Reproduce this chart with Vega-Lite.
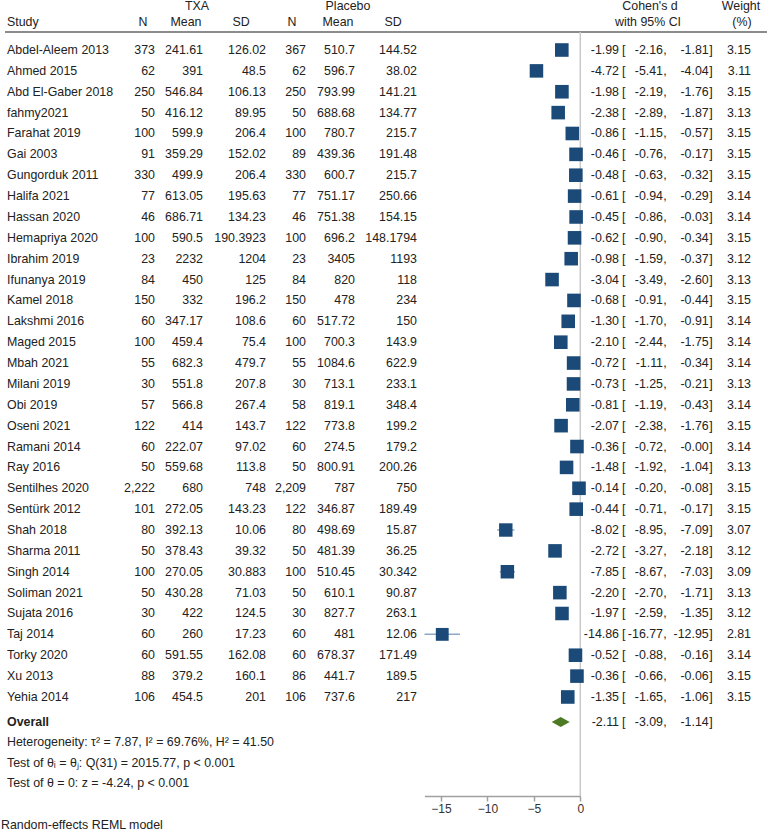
{
  "$schema": "https://vega.github.io/schema/vega-lite/v6.json",
  "width": 767,
  "height": 833,
  "autosize": {"type": "none"},
  "padding": 0,
  "background": "white",
  "config": {
    "view": {"stroke": null},
    "text": {"font": "Liberation Sans", "fontSize": 12.4, "color": "#222222", "baseline": "middle"}
  },
  "data": {"values": [{}]},
  "datasets": {
    "studies": [
      {"kind": "study", "study": "Abdel-Aleem 2013", "row": 0, "n1": "373", "m1": "241.61", "sd1": "126.02", "n2": "367", "m2": "510.7", "sd2": "144.52", "es": -1.99, "lo": -2.16, "hi": -1.81, "es_s": "-1.99", "lo_s": "-2.16", "hi_s": "-1.81", "w": 3.15},
      {"kind": "study", "study": "Ahmed 2015", "row": 1, "n1": "62", "m1": "391", "sd1": "48.5", "n2": "62", "m2": "596.7", "sd2": "38.02", "es": -4.72, "lo": -5.41, "hi": -4.04, "es_s": "-4.72", "lo_s": "-5.41", "hi_s": "-4.04", "w": 3.11},
      {"kind": "study", "study": "Abd El-Gaber 2018", "row": 2, "n1": "250", "m1": "546.84", "sd1": "106.13", "n2": "250", "m2": "793.99", "sd2": "141.21", "es": -1.98, "lo": -2.19, "hi": -1.76, "es_s": "-1.98", "lo_s": "-2.19", "hi_s": "-1.76", "w": 3.15},
      {"kind": "study", "study": "fahmy2021", "row": 3, "n1": "50", "m1": "416.12", "sd1": "89.95", "n2": "50", "m2": "688.68", "sd2": "134.77", "es": -2.38, "lo": -2.89, "hi": -1.87, "es_s": "-2.38", "lo_s": "-2.89", "hi_s": "-1.87", "w": 3.13},
      {"kind": "study", "study": "Farahat 2019", "row": 4, "n1": "100", "m1": "599.9", "sd1": "206.4", "n2": "100", "m2": "780.7", "sd2": "215.7", "es": -0.86, "lo": -1.15, "hi": -0.57, "es_s": "-0.86", "lo_s": "-1.15", "hi_s": "-0.57", "w": 3.15},
      {"kind": "study", "study": "Gai 2003", "row": 5, "n1": "91", "m1": "359.29", "sd1": "152.02", "n2": "89", "m2": "439.36", "sd2": "191.48", "es": -0.46, "lo": -0.76, "hi": -0.17, "es_s": "-0.46", "lo_s": "-0.76", "hi_s": "-0.17", "w": 3.15},
      {"kind": "study", "study": "Gungorduk 2011", "row": 6, "n1": "330", "m1": "499.9", "sd1": "206.4", "n2": "330", "m2": "600.7", "sd2": "215.7", "es": -0.48, "lo": -0.63, "hi": -0.32, "es_s": "-0.48", "lo_s": "-0.63", "hi_s": "-0.32", "w": 3.15},
      {"kind": "study", "study": "Halifa 2021", "row": 7, "n1": "77", "m1": "613.05", "sd1": "195.63", "n2": "77", "m2": "751.17", "sd2": "250.66", "es": -0.61, "lo": -0.94, "hi": -0.29, "es_s": "-0.61", "lo_s": "-0.94", "hi_s": "-0.29", "w": 3.14},
      {"kind": "study", "study": "Hassan 2020", "row": 8, "n1": "46", "m1": "686.71", "sd1": "134.23", "n2": "46", "m2": "751.38", "sd2": "154.15", "es": -0.45, "lo": -0.86, "hi": -0.03, "es_s": "-0.45", "lo_s": "-0.86", "hi_s": "-0.03", "w": 3.14},
      {"kind": "study", "study": "Hemapriya 2020", "row": 9, "n1": "100", "m1": "590.5", "sd1": "190.3923", "n2": "100", "m2": "696.2", "sd2": "148.1794", "es": -0.62, "lo": -0.90, "hi": -0.34, "es_s": "-0.62", "lo_s": "-0.90", "hi_s": "-0.34", "w": 3.15},
      {"kind": "study", "study": "Ibrahim 2019", "row": 10, "n1": "23", "m1": "2232", "sd1": "1204", "n2": "23", "m2": "3405", "sd2": "1193", "es": -0.98, "lo": -1.59, "hi": -0.37, "es_s": "-0.98", "lo_s": "-1.59", "hi_s": "-0.37", "w": 3.12},
      {"kind": "study", "study": "Ifunanya 2019", "row": 11, "n1": "84", "m1": "450", "sd1": "125", "n2": "84", "m2": "820", "sd2": "118", "es": -3.04, "lo": -3.49, "hi": -2.60, "es_s": "-3.04", "lo_s": "-3.49", "hi_s": "-2.60", "w": 3.13},
      {"kind": "study", "study": "Kamel 2018", "row": 12, "n1": "150", "m1": "332", "sd1": "196.2", "n2": "150", "m2": "478", "sd2": "234", "es": -0.68, "lo": -0.91, "hi": -0.44, "es_s": "-0.68", "lo_s": "-0.91", "hi_s": "-0.44", "w": 3.15},
      {"kind": "study", "study": "Lakshmi 2016", "row": 13, "n1": "60", "m1": "347.17", "sd1": "108.6", "n2": "60", "m2": "517.72", "sd2": "150", "es": -1.30, "lo": -1.70, "hi": -0.91, "es_s": "-1.30", "lo_s": "-1.70", "hi_s": "-0.91", "w": 3.14},
      {"kind": "study", "study": "Maged 2015", "row": 14, "n1": "100", "m1": "459.4", "sd1": "75.4", "n2": "100", "m2": "700.3", "sd2": "143.9", "es": -2.10, "lo": -2.44, "hi": -1.75, "es_s": "-2.10", "lo_s": "-2.44", "hi_s": "-1.75", "w": 3.14},
      {"kind": "study", "study": "Mbah 2021", "row": 15, "n1": "55", "m1": "682.3", "sd1": "479.7", "n2": "55", "m2": "1084.6", "sd2": "622.9", "es": -0.72, "lo": -1.11, "hi": -0.34, "es_s": "-0.72", "lo_s": "-1.11", "hi_s": "-0.34", "w": 3.14},
      {"kind": "study", "study": "Milani 2019", "row": 16, "n1": "30", "m1": "551.8", "sd1": "207.8", "n2": "30", "m2": "713.1", "sd2": "233.1", "es": -0.73, "lo": -1.25, "hi": -0.21, "es_s": "-0.73", "lo_s": "-1.25", "hi_s": "-0.21", "w": 3.13},
      {"kind": "study", "study": "Obi 2019", "row": 17, "n1": "57", "m1": "566.8", "sd1": "267.4", "n2": "58", "m2": "819.1", "sd2": "348.4", "es": -0.81, "lo": -1.19, "hi": -0.43, "es_s": "-0.81", "lo_s": "-1.19", "hi_s": "-0.43", "w": 3.14},
      {"kind": "study", "study": "Oseni 2021", "row": 18, "n1": "122", "m1": "414", "sd1": "143.7", "n2": "122", "m2": "773.8", "sd2": "199.2", "es": -2.07, "lo": -2.38, "hi": -1.76, "es_s": "-2.07", "lo_s": "-2.38", "hi_s": "-1.76", "w": 3.15},
      {"kind": "study", "study": "Ramani 2014", "row": 19, "n1": "60", "m1": "222.07", "sd1": "97.02", "n2": "60", "m2": "274.5", "sd2": "179.2", "es": -0.36, "lo": -0.72, "hi": -0.004, "es_s": "-0.36", "lo_s": "-0.72", "hi_s": "-0.00", "w": 3.14},
      {"kind": "study", "study": "Ray 2016", "row": 20, "n1": "50", "m1": "559.68", "sd1": "113.8", "n2": "50", "m2": "800.91", "sd2": "200.26", "es": -1.48, "lo": -1.92, "hi": -1.04, "es_s": "-1.48", "lo_s": "-1.92", "hi_s": "-1.04", "w": 3.13},
      {"kind": "study", "study": "Sentilhes 2020", "row": 21, "n1": "2,222", "m1": "680", "sd1": "748", "n2": "2,209", "m2": "787", "sd2": "750", "es": -0.14, "lo": -0.20, "hi": -0.08, "es_s": "-0.14", "lo_s": "-0.20", "hi_s": "-0.08", "w": 3.15},
      {"kind": "study", "study": "Sentürk 2012", "row": 22, "n1": "101", "m1": "272.05", "sd1": "143.23", "n2": "122", "m2": "346.87", "sd2": "189.49", "es": -0.44, "lo": -0.71, "hi": -0.17, "es_s": "-0.44", "lo_s": "-0.71", "hi_s": "-0.17", "w": 3.15},
      {"kind": "study", "study": "Shah 2018", "row": 23, "n1": "80", "m1": "392.13", "sd1": "10.06", "n2": "80", "m2": "498.69", "sd2": "15.87", "es": -8.02, "lo": -8.95, "hi": -7.09, "es_s": "-8.02", "lo_s": "-8.95", "hi_s": "-7.09", "w": 3.07},
      {"kind": "study", "study": "Sharma 2011", "row": 24, "n1": "50", "m1": "378.43", "sd1": "39.32", "n2": "50", "m2": "481.39", "sd2": "36.25", "es": -2.72, "lo": -3.27, "hi": -2.18, "es_s": "-2.72", "lo_s": "-3.27", "hi_s": "-2.18", "w": 3.12},
      {"kind": "study", "study": "Singh 2014", "row": 25, "n1": "100", "m1": "270.05", "sd1": "30.883", "n2": "100", "m2": "510.45", "sd2": "30.342", "es": -7.85, "lo": -8.67, "hi": -7.03, "es_s": "-7.85", "lo_s": "-8.67", "hi_s": "-7.03", "w": 3.09},
      {"kind": "study", "study": "Soliman 2021", "row": 26, "n1": "50", "m1": "430.28", "sd1": "71.03", "n2": "50", "m2": "610.1", "sd2": "90.87", "es": -2.20, "lo": -2.70, "hi": -1.71, "es_s": "-2.20", "lo_s": "-2.70", "hi_s": "-1.71", "w": 3.13},
      {"kind": "study", "study": "Sujata 2016", "row": 27, "n1": "30", "m1": "422", "sd1": "124.5", "n2": "30", "m2": "827.7", "sd2": "263.1", "es": -1.97, "lo": -2.59, "hi": -1.35, "es_s": "-1.97", "lo_s": "-2.59", "hi_s": "-1.35", "w": 3.12},
      {"kind": "study", "study": "Taj 2014", "row": 28, "n1": "60", "m1": "260", "sd1": "17.23", "n2": "60", "m2": "481", "sd2": "12.06", "es": -14.86, "lo": -16.77, "hi": -12.95, "es_s": "-14.86", "lo_s": "-16.77", "hi_s": "-12.95", "w": 2.81},
      {"kind": "study", "study": "Torky 2020", "row": 29, "n1": "60", "m1": "591.55", "sd1": "162.08", "n2": "60", "m2": "678.37", "sd2": "171.49", "es": -0.52, "lo": -0.88, "hi": -0.16, "es_s": "-0.52", "lo_s": "-0.88", "hi_s": "-0.16", "w": 3.14},
      {"kind": "study", "study": "Xu 2013", "row": 30, "n1": "88", "m1": "379.2", "sd1": "160.1", "n2": "86", "m2": "441.7", "sd2": "189.5", "es": -0.36, "lo": -0.66, "hi": -0.06, "es_s": "-0.36", "lo_s": "-0.66", "hi_s": "-0.06", "w": 3.15},
      {"kind": "study", "study": "Yehia 2014", "row": 31, "n1": "106", "m1": "454.5", "sd1": "201", "n2": "106", "m2": "737.6", "sd2": "217", "es": -1.35, "lo": -1.65, "hi": -1.06, "es_s": "-1.35", "lo_s": "-1.65", "hi_s": "-1.06", "w": 3.15},
      {"kind": "overall", "study": "Overall", "row": 32.2, "es": -2.11, "lo": -3.09, "hi": -1.14, "es_s": "-2.11", "lo_s": "-3.09", "hi_s": "-1.14"}
    ],
    "notes": [
      {"text": "Heterogeneity: τ² = 7.87, I² = 69.76%, H² = 41.50", "row": 33.16},
      {"text": "Test of θᵢ = θⱼ: Q(31) = 2015.77, p < 0.001", "row": 34.16},
      {"text": "Test of θ = 0: z = -4.24, p < 0.001", "row": 35.12}
    ],
    "foot": [
      {"text": "Random-effects REML model", "row": 37.12}
    ]
  },
  "layer": [
    {
      "mark": {"type": "rule", "color": "#8c8c8c", "strokeWidth": 2},
      "encoding": {
        "x": {"value": 5}, "x2": {"value": 767},
        "y": {"datum": -0.86, "type": "quantitative", "scale": {"domain": [-2.396, 35.745], "range": [0, 796], "nice": false, "zero": false}, "axis": null}
      }
    },
    {
      "mark": {"type": "rule", "color": "#c8c8c8", "strokeWidth": 1.5},
      "encoding": {
        "x": {"datum": 0, "type": "quantitative", "scale": {"domain": [-16.77, 0], "range": [424.5, 580.3], "nice": false, "zero": false},
              "axis": {"values": [-15, -10, -5, 0], "title": null, "grid": false, "offset": -37, "domainColor": "#a0a0a0", "domainWidth": 1.5, "tickColor": "#a0a0a0", "tickWidth": 1.5, "tickSize": 5, "labelFontSize": 12, "labelColor": "#333333", "labelPadding": 2, "labelFont": "Liberation Sans", "format": "d", "labelFlush": false}},
        "y": {"datum": -0.86, "type": "quantitative", "scale": {"domain": [-2.396, 35.745], "range": [0, 796], "nice": false, "zero": false}, "axis": null},
        "y2": {"datum": 35.745}
      }
    },
    {
      "data": {"name": "studies"},
      "transform": [{"filter": {"field": "kind", "equal": "study"}}],
      "mark": {"type": "rule", "color": "#8fa8c8", "strokeWidth": 1.5},
      "encoding": {
        "x": {"field": "lo", "type": "quantitative", "scale": {"domain": [-16.77, 0], "range": [424.5, 580.3], "nice": false, "zero": false},
              "axis": {"values": [-15, -10, -5, 0], "title": null, "grid": false, "offset": -37, "domainColor": "#a0a0a0", "domainWidth": 1.5, "tickColor": "#a0a0a0", "tickWidth": 1.5, "tickSize": 5, "labelFontSize": 12, "labelColor": "#333333", "labelPadding": 2, "labelFont": "Liberation Sans", "format": "d", "labelFlush": false}},
        "x2": {"field": "hi"},
        "y": {"field": "row", "type": "quantitative", "scale": {"domain": [-2.396, 35.745], "range": [0, 796], "nice": false, "zero": false}, "axis": null}
      }
    },
    {
      "data": {"name": "studies"},
      "transform": [{"filter": {"field": "kind", "equal": "study"}}],
      "mark": {"type": "point", "shape": "square", "filled": true, "opacity": 1, "color": "#1b4a78", "strokeWidth": 0},
      "encoding": {
        "x": {"field": "es", "type": "quantitative", "scale": {"domain": [-16.77, 0], "range": [424.5, 580.3], "nice": false, "zero": false},
              "axis": {"values": [-15, -10, -5, 0], "title": null, "grid": false, "offset": -37, "domainColor": "#a0a0a0", "domainWidth": 1.5, "tickColor": "#a0a0a0", "tickWidth": 1.5, "tickSize": 5, "labelFontSize": 12, "labelColor": "#333333", "labelPadding": 2, "labelFont": "Liberation Sans", "format": "d", "labelFlush": false}},
        "y": {"field": "row", "type": "quantitative", "scale": {"domain": [-2.396, 35.745], "range": [0, 796], "nice": false, "zero": false}, "axis": null},
        "size": {"field": "w", "type": "quantitative", "scale": {"domain": [0, 3.15], "range": [0, 185], "zero": true}, "legend": null}
      }
    },
    {
      "data": {"name": "studies"},
      "transform": [{"filter": {"field": "kind", "equal": "overall"}}],
      "mark": {"type": "point", "shape": "M-1,0L0,-0.56L1,0L0,0.56Z", "filled": true, "opacity": 1, "color": "#4e7a25", "strokeWidth": 0, "size": 324},
      "encoding": {
        "x": {"field": "es", "type": "quantitative", "scale": {"domain": [-16.77, 0], "range": [424.5, 580.3], "nice": false, "zero": false},
              "axis": {"values": [-15, -10, -5, 0], "title": null, "grid": false, "offset": -37, "domainColor": "#a0a0a0", "domainWidth": 1.5, "tickColor": "#a0a0a0", "tickWidth": 1.5, "tickSize": 5, "labelFontSize": 12, "labelColor": "#333333", "labelPadding": 2, "labelFont": "Liberation Sans", "format": "d", "labelFlush": false}},
        "y": {"field": "row", "type": "quantitative", "scale": {"domain": [-2.396, 35.745], "range": [0, 796], "nice": false, "zero": false}, "axis": null}
      }
    },
    {"mark": {"type": "text", "text": "TXA", "align": "center"}, "encoding": {"x": {"value": 197}, "y": {"datum": -2.108, "type": "quantitative", "axis": null}}},
    {"mark": {"type": "text", "text": "Placebo", "align": "center"}, "encoding": {"x": {"value": 348}, "y": {"datum": -2.108, "type": "quantitative", "axis": null}}},
    {"mark": {"type": "text", "text": "Cohen's d", "align": "center"}, "encoding": {"x": {"value": 650}, "y": {"datum": -2.108, "type": "quantitative", "axis": null}}},
    {"mark": {"type": "text", "text": "Weight", "align": "center"}, "encoding": {"x": {"value": 741}, "y": {"datum": -2.108, "type": "quantitative", "axis": null}}},
    {"mark": {"type": "text", "text": "Study", "align": "left"}, "encoding": {"x": {"value": 7}, "y": {"datum": -1.342, "type": "quantitative", "axis": null}}},
    {"mark": {"type": "text", "text": "N", "align": "center"}, "encoding": {"x": {"value": 143}, "y": {"datum": -1.342, "type": "quantitative", "axis": null}}},
    {"mark": {"type": "text", "text": "Mean", "align": "center"}, "encoding": {"x": {"value": 186}, "y": {"datum": -1.342, "type": "quantitative", "axis": null}}},
    {"mark": {"type": "text", "text": "SD", "align": "center"}, "encoding": {"x": {"value": 241}, "y": {"datum": -1.342, "type": "quantitative", "axis": null}}},
    {"mark": {"type": "text", "text": "N", "align": "center"}, "encoding": {"x": {"value": 292}, "y": {"datum": -1.342, "type": "quantitative", "axis": null}}},
    {"mark": {"type": "text", "text": "Mean", "align": "center"}, "encoding": {"x": {"value": 338}, "y": {"datum": -1.342, "type": "quantitative", "axis": null}}},
    {"mark": {"type": "text", "text": "SD", "align": "center"}, "encoding": {"x": {"value": 393}, "y": {"datum": -1.342, "type": "quantitative", "axis": null}}},
    {"mark": {"type": "text", "text": "with 95% CI", "align": "center"}, "encoding": {"x": {"value": 648}, "y": {"datum": -1.342, "type": "quantitative", "axis": null}}},
    {"mark": {"type": "text", "text": "(%)", "align": "center"}, "encoding": {"x": {"value": 742}, "y": {"datum": -1.342, "type": "quantitative", "axis": null}}},
    {
      "data": {"name": "studies"},
      "transform": [{"filter": {"field": "kind", "equal": "study"}}],
      "mark": {"type": "text", "align": "left"},
      "encoding": {"x": {"value": 7}, "y": {"field": "row", "type": "quantitative", "axis": null}, "text": {"field": "study", "type": "nominal"}}
    },
    {
      "data": {"name": "studies"},
      "transform": [{"filter": {"field": "kind", "equal": "overall"}}],
      "mark": {"type": "text", "align": "left", "fontWeight": "bold"},
      "encoding": {"x": {"value": 7}, "y": {"field": "row", "type": "quantitative", "axis": null}, "text": {"field": "study", "type": "nominal"}}
    },
    {
      "data": {"name": "studies"},
      "transform": [{"filter": {"field": "kind", "equal": "study"}}],
      "mark": {"type": "text", "align": "right"},
      "encoding": {"x": {"value": 155}, "y": {"field": "row", "type": "quantitative", "axis": null}, "text": {"field": "n1", "type": "nominal"}}
    },
    {
      "data": {"name": "studies"},
      "transform": [{"filter": {"field": "kind", "equal": "study"}}],
      "mark": {"type": "text", "align": "right"},
      "encoding": {"x": {"value": 203}, "y": {"field": "row", "type": "quantitative", "axis": null}, "text": {"field": "m1", "type": "nominal"}}
    },
    {
      "data": {"name": "studies"},
      "transform": [{"filter": {"field": "kind", "equal": "study"}}],
      "mark": {"type": "text", "align": "right"},
      "encoding": {"x": {"value": 266}, "y": {"field": "row", "type": "quantitative", "axis": null}, "text": {"field": "sd1", "type": "nominal"}}
    },
    {
      "data": {"name": "studies"},
      "transform": [{"filter": {"field": "kind", "equal": "study"}}],
      "mark": {"type": "text", "align": "right"},
      "encoding": {"x": {"value": 306}, "y": {"field": "row", "type": "quantitative", "axis": null}, "text": {"field": "n2", "type": "nominal"}}
    },
    {
      "data": {"name": "studies"},
      "transform": [{"filter": {"field": "kind", "equal": "study"}}],
      "mark": {"type": "text", "align": "right"},
      "encoding": {"x": {"value": 355}, "y": {"field": "row", "type": "quantitative", "axis": null}, "text": {"field": "m2", "type": "nominal"}}
    },
    {
      "data": {"name": "studies"},
      "transform": [{"filter": {"field": "kind", "equal": "study"}}],
      "mark": {"type": "text", "align": "right"},
      "encoding": {"x": {"value": 417}, "y": {"field": "row", "type": "quantitative", "axis": null}, "text": {"field": "sd2", "type": "nominal"}}
    },
    {
      "data": {"name": "studies"},
      "mark": {"type": "text", "align": "right"},
      "encoding": {"x": {"value": 619}, "y": {"field": "row", "type": "quantitative", "axis": null}, "text": {"field": "es_s", "type": "nominal"}}
    },
    {
      "data": {"name": "studies"},
      "mark": {"type": "text", "align": "left", "text": "["},
      "encoding": {"x": {"value": 622}, "y": {"field": "row", "type": "quantitative", "axis": null}}
    },
    {
      "data": {"name": "studies"},
      "mark": {"type": "text", "align": "right"},
      "encoding": {"x": {"value": 663}, "y": {"field": "row", "type": "quantitative", "axis": null}, "text": {"field": "lo_s", "type": "nominal"}}
    },
    {
      "data": {"name": "studies"},
      "mark": {"type": "text", "align": "left", "text": ","},
      "encoding": {"x": {"value": 663.3}, "y": {"field": "row", "type": "quantitative", "axis": null}}
    },
    {
      "data": {"name": "studies"},
      "mark": {"type": "text", "align": "right"},
      "encoding": {"x": {"value": 708.7}, "y": {"field": "row", "type": "quantitative", "axis": null}, "text": {"field": "hi_s", "type": "nominal"}}
    },
    {
      "data": {"name": "studies"},
      "mark": {"type": "text", "align": "left", "text": "]"},
      "encoding": {"x": {"value": 709.3}, "y": {"field": "row", "type": "quantitative", "axis": null}}
    },
    {
      "data": {"name": "studies"},
      "transform": [{"filter": {"field": "kind", "equal": "study"}}],
      "mark": {"type": "text", "align": "right"},
      "encoding": {"x": {"value": 751}, "y": {"field": "row", "type": "quantitative", "axis": null}, "text": {"field": "w", "type": "quantitative", "format": ".2f"}}
    },
    {
      "data": {"name": "notes"},
      "mark": {"type": "text", "align": "left"},
      "encoding": {"x": {"value": 7}, "y": {"field": "row", "type": "quantitative", "axis": null}, "text": {"field": "text", "type": "nominal"}}
    },
    {
      "data": {"name": "foot"},
      "mark": {"type": "text", "align": "left"},
      "encoding": {"x": {"value": 1}, "y": {"field": "row", "type": "quantitative", "axis": null}, "text": {"field": "text", "type": "nominal"}}
    }
  ]
}
